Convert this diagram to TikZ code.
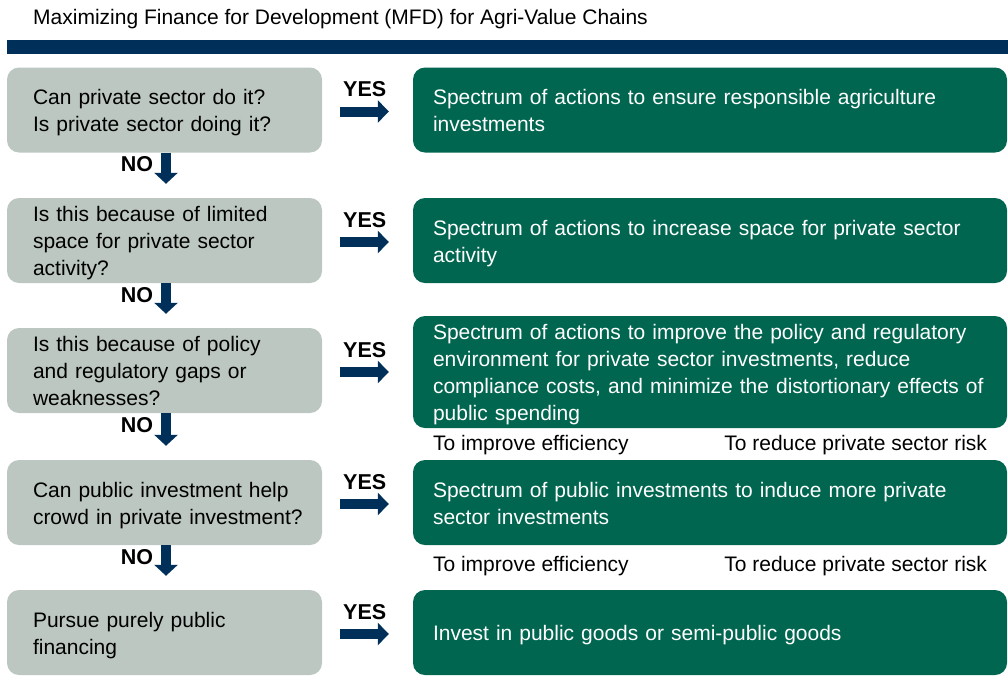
\documentclass[tikz,border=0pt]{standalone}
\usepackage{fontspec}
\setmainfont{Liberation Sans}
\usetikzlibrary{positioning}
\usetikzlibrary{arrows.meta}
\usetikzlibrary{calc}

\definecolor{mfdnavy}{HTML}{00305A}
\definecolor{mfdgray}{HTML}{BCC7C1}
\definecolor{mfdgreen}{HTML}{00664F}

\begin{document}
\begin{tikzpicture}[x=1pt, y=-1pt,
  every node/.style={font=\fontsize{21}{27}\selectfont},
  question/.style={rectangle, fill=mfdgray, rounded corners=12pt, minimum width=315pt, minimum height=85pt, text width=263pt, inner xsep=26pt, inner ysep=0pt, align=left,
    execute at begin node={\rule{0pt}{22pt}}, execute at end node={\rule[-6pt]{0pt}{6pt}}},
  action/.style={rectangle, fill=mfdgreen, text=white, rounded corners=12pt, minimum width=594pt, minimum height=85pt, text width=554pt, inner xsep=20pt, inner ysep=0pt, align=left,
    execute at begin node={\rule{0pt}{22pt}}, execute at end node={\rule[-6pt]{0pt}{6pt}}},
  yesarrow/.style={line width=10pt, draw=mfdnavy, -{Triangle[length=11pt, width=22pt]}},
  noarrow/.style={line width=10pt, draw=mfdnavy, -{Triangle[length=11pt, width=23pt]}},
  answer/.style={font=\fontsize{21.5}{27}\selectfont\bfseries, inner sep=0pt},
  sublabel/.style={inner sep=0pt}
]
\useasboundingbox (0,0) rectangle (1008,675);

% Title
\node[anchor=base west, inner sep=0pt] (title) at (33,24) {Maximizing Finance for Development (MFD) for Agri-Value Chains};
\fill[mfdnavy] (7,40) rectangle (1008,54);

% Questions
\node[question] (canprivate) at (164.5,110) {Can private sector do it?\\Is private sector doing it?};
\node[question] (limitedspace) at (164.5,240.5) {Is this because of limited\\space for private sector\\activity?};
\node[question] (policygaps) at (164.5,370.5) {Is this because of policy\\and regulatory gaps or\\weaknesses?};
\node[question] (publicinv) at (164.5,502.5) {Can public investment help\\\mbox{crowd in private investment?}};
\node[question] (purepublic) at (164.5,632.5) {Pursue purely public\\financing};

% Actions
\node[action] (responsible) at (710,110) {Spectrum of actions to ensure responsible agriculture\\investments};
\node[action] (space) at (710,240.5) {Spectrum of actions to increase space for private sector\\activity};
\node[action, minimum height=112pt] (policy) at (710,372) {Spectrum of actions to improve the policy and regulatory\\environment for private sector investments, reduce\\compliance costs, and minimize the distortionary effects of\\public spending};
\node[action] (publicact) at (710,502.5) {Spectrum of public investments to induce more private\\sector investments};
\node[action] (publicgoods) at (710,632.5) {Invest in public goods or semi-public goods};

% Sub labels
\node[sublabel, anchor=west] (eff1) at ($(policy.south west)+(20,17)$) {To improve efficiency};
\node[sublabel, anchor=east] (risk1) at ($(policy.south east)+(-20,17)$) {To reduce private sector risk};
\node[sublabel, anchor=west] (eff2) at ($(publicact.south west)+(20,21)$) {To improve efficiency};
\node[sublabel, anchor=east] (risk2) at ($(publicact.south east)+(-20,21)$) {To reduce private sector risk};

% YES arrows
\draw[yesarrow] ($(canprivate.east)+(18,1.5)$) -- ($(canprivate.east -| responsible.west)+(-24,1.5)$) node[pos=0, answer, anchor=base west, xshift=-2pt, yshift=15pt] {YES};
\draw[yesarrow] ($(limitedspace.east)+(18,1.5)$) -- ($(limitedspace.east -| space.west)+(-24,1.5)$) node[pos=0, answer, anchor=base west, xshift=-2pt, yshift=15pt] {YES};
\draw[yesarrow] ($(policygaps.east)+(18,1.5)$) -- ($(policygaps.east -| policy.west)+(-24,1.5)$) node[pos=0, answer, anchor=base west, xshift=-2pt, yshift=15pt] {YES};
\draw[yesarrow] ($(publicinv.east)+(18,1.5)$) -- ($(publicinv.east -| publicact.west)+(-24,1.5)$) node[pos=0, answer, anchor=base west, xshift=-2pt, yshift=15pt] {YES};
\draw[yesarrow] ($(purepublic.east)+(18,1.5)$) -- ($(purepublic.east -| publicgoods.west)+(-24,1.5)$) node[pos=0, answer, anchor=base west, xshift=-2pt, yshift=15pt] {YES};

% NO arrows
\draw[noarrow] ($(canprivate.south)+(1.5,0)$) -- ($(limitedspace.north)+(1.5,-14)$) node[pos=0, answer, anchor=base east, xshift=-8pt, yshift=-19pt] {NO};
\draw[noarrow] ($(limitedspace.south)+(1.5,0)$) -- ($(policygaps.north)+(1.5,-14)$) node[pos=0, answer, anchor=base east, xshift=-8pt, yshift=-19pt] {NO};
\draw[noarrow] ($(policygaps.south)+(1.5,0)$) -- ($(publicinv.north)+(1.5,-14)$) node[pos=0, answer, anchor=base east, xshift=-8pt, yshift=-19pt] {NO};
\draw[noarrow] ($(publicinv.south)+(1.5,0)$) -- ($(purepublic.north)+(1.5,-14)$) node[pos=0, answer, anchor=base east, xshift=-8pt, yshift=-19pt] {NO};

\end{tikzpicture}
\end{document}
